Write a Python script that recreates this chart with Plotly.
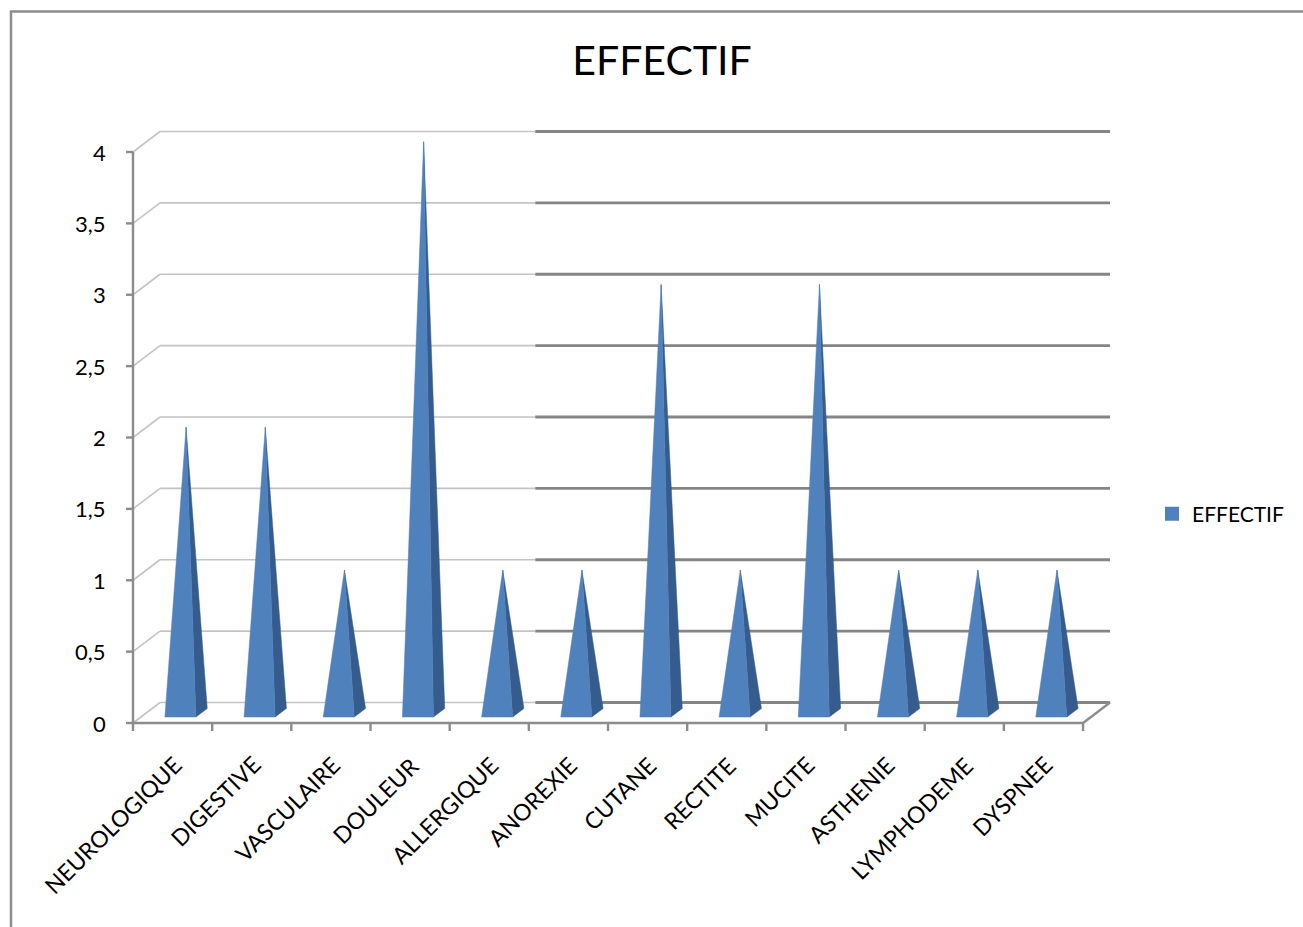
import plotly.graph_objects as go

# ---- data ----
categories = ["NEUROLOGIQUE", "DIGESTIVE", "VASCULAIRE", "DOULEUR", "ALLERGIQUE", "ANOREXIE",
              "CUTANE", "RECTITE", "MUCITE", "ASTHENIE", "LYMPHODEME", "DYSPNEE"]
effectif = [2, 2, 1, 4, 1, 1, 3, 1, 3, 1, 1, 1]
y_tick_values = [0, 0.5, 1, 1.5, 2, 2.5, 3, 3.5, 4]
y_tick_labels = ["0", "0,5", "1", "1,5", "2", "2,5", "3", "3,5", "4"]
series_name = "EFFECTIF"
chart_title = "EFFECTIF"

# ---- page / scale setup ----
W, H = 1303, 927
X0_PX, Y0_PX = 133, 723          # front-left corner of the floor, in pixels
PX_PER_CAT = 79.17               # width of one category slot
PX_PER_UNIT = 142.75             # height of one value unit
DEPTH_PX = (27, 20.5)            # oblique offset of the back wall

x_range = [-X0_PX / PX_PER_CAT, (W - X0_PX) / PX_PER_CAT]
y_range = [-(H - Y0_PX) / PX_PER_UNIT, Y0_PX / PX_PER_UNIT]
DX = DEPTH_PX[0] / PX_PER_CAT
DY = DEPTH_PX[1] / PX_PER_UNIT
N = len(categories)
Y_MAX = y_tick_values[-1]
GRID_SPLIT = 4.74                # gridlines change weight past this category position

FRONT_BLUE = "#4F81BD"
SIDE_BLUE = "#355C8C"
GRID_LIGHT = "#C4C4C4"
GRID_DARK = "#858585"
AXIS_GREY = "#8C8C8C"
FONT = "Lato, 'Open Sans', sans-serif"


def proj(x, y, z):
    """Oblique projection: z=0 is the front plane, z=1 the back wall."""
    return x + z * DX, y + z * DY


def seg_trace(segments, color, width):
    xs, ys = [], []
    for (a, b) in segments:
        xs += [a[0], b[0], None]
        ys += [a[1], b[1], None]
    return go.Scatter(x=xs, y=ys, mode="lines", line=dict(color=color, width=width),
                      hoverinfo="skip", showlegend=False)


fig = go.Figure()

# walls: gridlines on the back wall with their return to the front axis
light, dark = [], []
for v in y_tick_values:
    light.append((proj(0, v, 0), proj(0, v, 1)))
    light.append((proj(0, v, 1), proj(GRID_SPLIT, v, 1)))
    dark.append((proj(GRID_SPLIT, v, 1), proj(N, v, 1)))
fig.add_trace(seg_trace(light, GRID_LIGHT, 1.6))
fig.add_trace(seg_trace(dark, GRID_DARK, 2.8))

# floor outline, value axis and tick marks
axis = [(proj(0, 0, 0), proj(N, 0, 0)),
        (proj(N, 0, 0), proj(N, 0, 1)),
        (proj(0, 0, 0), proj(0, Y_MAX, 0))]
tick_len_x = 7 / PX_PER_CAT
tick_len_y = 8 / PX_PER_UNIT
for v in y_tick_values:
    axis.append(((-tick_len_x, v), (0, v)))
for i in range(N + 1):
    axis.append(((i, 0), (i, -tick_len_y)))
fig.add_trace(seg_trace(axis, AXIS_GREY, 2.4))

# pyramids: front face and shaded right face
HALF_W = 0.196
Z_FRONT, Z_BACK = 0.29, 0.71
fx, fy, sx, sy = [], [], [], []
for i, v in enumerate(effectif):
    cx = i + 0.5
    apex = proj(cx, v, 0.5)
    fl = proj(cx - HALF_W, 0, Z_FRONT)
    fr = proj(cx + HALF_W, 0, Z_FRONT)
    br = proj(cx + HALF_W, 0, Z_BACK)
    for p in (fl, fr, apex, fl):
        fx.append(p[0]); fy.append(p[1])
    fx.append(None); fy.append(None)
    for p in (fr, br, apex, fr):
        sx.append(p[0]); sy.append(p[1])
    sx.append(None); sy.append(None)

fig.add_trace(go.Scatter(x=sx, y=sy, mode="lines", fill="toself", fillcolor=SIDE_BLUE,
                         line=dict(width=0.5, color=SIDE_BLUE), hoverinfo="skip", showlegend=False))
fig.add_trace(go.Scatter(x=fx, y=fy, mode="lines", fill="toself", fillcolor=FRONT_BLUE,
                         line=dict(width=0.5, color=FRONT_BLUE), hoverinfo="skip", showlegend=False))

# legend entry for the series
fig.add_trace(go.Scatter(x=[None], y=[None], mode="markers", name=series_name,
                         marker=dict(symbol="square", size=14, color=FRONT_BLUE)))

annotations = []
for v, lab in zip(y_tick_values, y_tick_labels):
    annotations.append(dict(x=-25 / PX_PER_CAT, y=v, xref="x", yref="y", text=lab,
                            showarrow=False, xanchor="right", yanchor="middle",
                            font=dict(family=FONT, size=22, color="#000000")))
for i, name in enumerate(categories):
    annotations.append(dict(x=i + 0.5 + 17 / PX_PER_CAT, y=-25 / PX_PER_UNIT, xref="x", yref="y",
                            text=name, showarrow=False, textangle=-45,
                            xanchor="right", yanchor="top",
                            font=dict(family=FONT, size=23, color="#000000")))

fig.update_layout(
    width=W, height=H,
    margin=dict(l=0, r=0, t=0, b=0),
    paper_bgcolor="white", plot_bgcolor="white",
    xaxis=dict(range=x_range, visible=False, fixedrange=True, domain=[0, 1]),
    yaxis=dict(range=y_range, visible=False, fixedrange=True, domain=[0, 1]),
    title=dict(text=chart_title, x=662 / W, y=1 - 61 / H, xanchor="center", yanchor="middle",
               font=dict(family=FONT, size=41, color="#000000")),
    legend=dict(x=1152 / W, y=1 - 514 / H, xanchor="left", yanchor="middle",
                font=dict(family=FONT, size=21, color="#000000"),
                bgcolor="rgba(0,0,0,0)", itemwidth=30),
    annotations=annotations,
    shapes=[dict(type="rect", xref="paper", yref="paper",
                 x0=11 / W, x1=1.02, y0=-0.02, y1=1 - 11.5 / H,
                 line=dict(color="#8C8C8C", width=2.5), layer="below")],
    showlegend=True,
)

fig.write_html("out.html")
